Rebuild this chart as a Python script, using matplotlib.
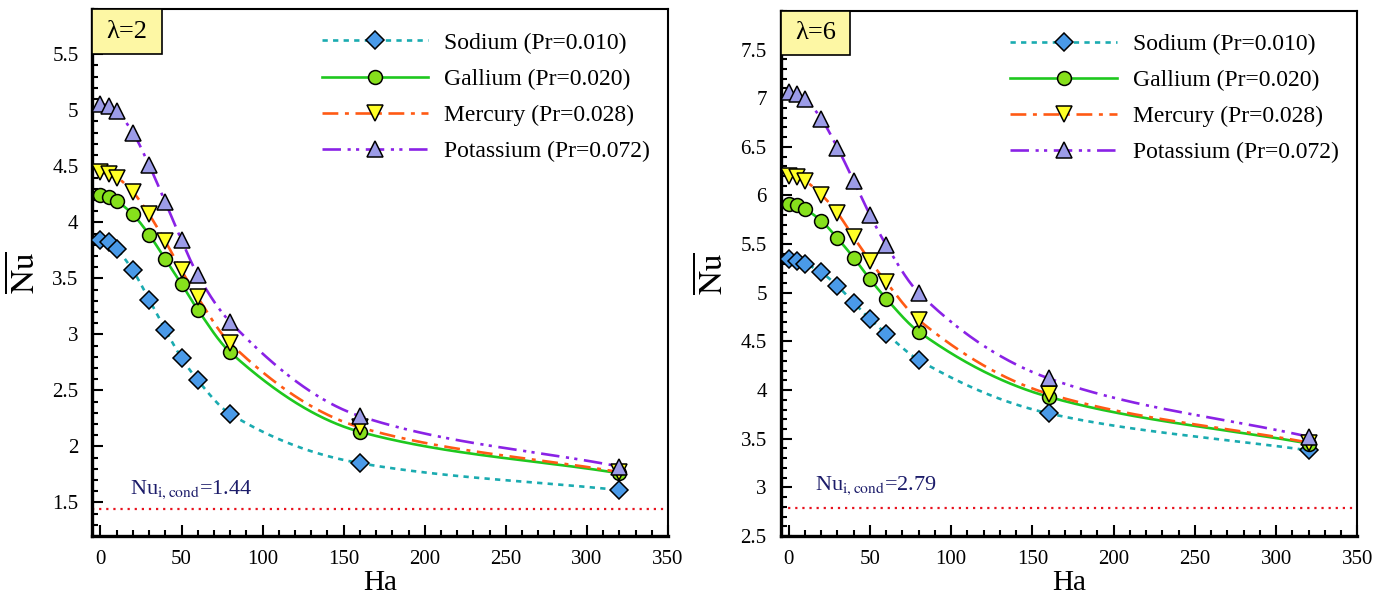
import matplotlib
matplotlib.use('Agg')
import matplotlib.pyplot as plt
import numpy as np
from matplotlib.patches import Rectangle
from matplotlib.ticker import MultipleLocator, FormatStrFormatter

plt.rcParams['font.family'] = ['Liberation Serif', 'DejaVu Serif']
plt.rcParams['mathtext.fontset'] = 'stix'

ha = [0, 5, 10, 20, 30, 40, 50, 60, 80, 160, 320]

# lambda = 2
sodium_2 = [3.84, 3.82, 3.76, 3.57, 3.31, 3.04, 2.79, 2.59, 2.29, 1.85, 1.61]
gallium_2 = [4.24, 4.23, 4.19, 4.07, 3.89, 3.67, 3.45, 3.22, 2.84, 2.13, 1.76]
mercury_2 = [4.45, 4.43, 4.40, 4.27, 4.07, 3.83, 3.57, 3.33, 2.92, 2.17, 1.77]
potassium_2 = [5.06, 5.04, 4.99, 4.80, 4.51, 4.18, 3.84, 3.53, 3.11, 2.27, 1.82]
nu_cond_2 = 1.44

# lambda = 6
sodium_6 = [5.35, 5.33, 5.30, 5.21, 5.07, 4.90, 4.73, 4.58, 4.31, 3.76, 3.38]
gallium_6 = [5.91, 5.90, 5.86, 5.74, 5.56, 5.36, 5.14, 4.94, 4.60, 3.93, 3.45]
mercury_6 = [6.20, 6.19, 6.15, 6.01, 5.82, 5.57, 5.33, 5.11, 4.72, 3.96, 3.46]
potassium_6 = [7.06, 7.04, 6.99, 6.79, 6.49, 6.15, 5.80, 5.49, 5.00, 4.12, 3.52]
nu_cond_6 = 2.79

labels = ['Sodium (Pr=0.010)', 'Gallium (Pr=0.020)',
          'Mercury (Pr=0.028)', 'Potassium (Pr=0.072)']


def smooth(x, y, n=400):
    # monotone cubic (pchip) curve through the points, for drawing only
    x = np.asarray(x, float)
    y = np.asarray(y, float)
    h = np.diff(x)
    d = np.diff(y) / h
    m = np.zeros_like(y)
    m[0] = d[0]
    m[-1] = d[-1]
    for k in range(1, len(x) - 1):
        if d[k - 1] * d[k] > 0:
            w1 = 2 * h[k] + h[k - 1]
            w2 = h[k] + 2 * h[k - 1]
            m[k] = (w1 + w2) / (w1 / d[k - 1] + w2 / d[k])
    xs = np.linspace(x[0], x[-1], n)
    i = np.clip(np.searchsorted(x, xs) - 1, 0, len(x) - 2)
    t = (xs - x[i]) / h[i]
    h00 = 2 * t**3 - 3 * t**2 + 1
    h10 = t**3 - 2 * t**2 + t
    h01 = -2 * t**3 + 3 * t**2
    h11 = t**3 - t**2
    ys = h00 * y[i] + h10 * h[i] * m[i] + h01 * y[i + 1] + h11 * h[i] * m[i + 1]
    return xs, ys


styles = [
    dict(color='#1aabb0', dashes=(2, 2), marker='D', mfc='#4a9ae8', ms=9),
    dict(color='#1ec81e', dashes=(), marker='o', mfc='#86e01c', ms=10),
    dict(color='#ff5a14', dashes=(6, 2.5, 1.5, 2.5), marker='v', mfc='#ffff26', ms=11),
    dict(color='#8a22e6', dashes=(7, 2.5, 1.2, 2, 1.2, 2.5), marker='^', mfc='#9c9ce8', ms=11),
]

fig = plt.figure(figsize=(13.87, 5.99), dpi=100)
ax1 = fig.add_axes([0.0666, 0.1052, 0.415, 0.879])
ax2 = fig.add_axes([0.5628, 0.1052, 0.4159, 0.877])

panels = [
    (ax1, [sodium_2, gallium_2, mercury_2, potassium_2], nu_cond_2, '\u03bb=2', (1.2, 5.9), (18, 1.575)),
    (ax2, [sodium_6, gallium_6, mercury_6, potassium_6], nu_cond_6, '\u03bb=6', (2.5, 7.9), (16, 2.975)),
]

for ax, series, nuc, lam, ylim, tpos in panels:
    handles = []
    for vals, st, lab in zip(series, styles, labels):
        xs, ys = smooth(ha, vals)
        ln, = ax.plot(xs, ys, color=st['color'], lw=1.9, zorder=2)
        if st['dashes']:
            ln.set_dashes(st['dashes'])
        ax.plot(ha, vals, linestyle='none', marker=st['marker'], ms=st['ms'],
                mfc=st['mfc'], mec='black', mew=1.1, zorder=3)
        h, = ax.plot([], [], color=st['color'], lw=1.9, marker=st['marker'],
                     ms=st['ms'], mfc=st['mfc'], mec='black', mew=1.1)
        if st['dashes']:
            h.set_dashes(st['dashes'])
        handles.append(h)

    ax.axhline(nuc, color='#e8121e', lw=1.6, dashes=(1, 2.2), zorder=1)
    ax.text(tpos[0], tpos[1], r'Nu$_{\mathrm{i,cond}}$=%.2f' % nuc,
            color='#1c1c6a', fontsize=16)

    ax.legend(handles, labels, loc='upper left', bbox_to_anchor=(0.382, 0.975),
              frameon=False, fontsize=17, handlelength=4.5, handletextpad=0.7,
              labelspacing=0.62, borderaxespad=0)

    ax.add_patch(Rectangle((0, 0.915), 0.121, 0.085, transform=ax.transAxes,
                           facecolor='#fdf7a4', edgecolor='black', lw=1.2,
                           zorder=5, clip_on=False))
    ax.text(0.0605, 0.9575, lam, transform=ax.transAxes, ha='center',
            va='center', fontsize=19, zorder=6)

    ax.set_xlim(-5, 350)
    ax.set_ylim(*ylim)
    ax.xaxis.set_major_locator(MultipleLocator(50))
    ax.xaxis.set_minor_locator(MultipleLocator(10))
    ax.yaxis.set_major_locator(MultipleLocator(0.5))
    ax.yaxis.set_minor_locator(MultipleLocator(0.1))
    ax.yaxis.set_major_formatter(FormatStrFormatter('%g'))
    ax.tick_params(which='both', direction='in', top=False, right=False,
                   labelsize=15, width=1.5)
    ax.tick_params(which='major', length=8, pad=10)
    ax.tick_params(which='minor', length=4)
    ax.spines['left'].set_linewidth(2.4)
    ax.spines['bottom'].set_linewidth(2.4)
    ax.spines['top'].set_linewidth(1.5)
    ax.spines['right'].set_linewidth(1.5)

    ax.set_xlabel('Ha', fontsize=21, labelpad=1)
    ax.set_ylabel(r'$\overline{\mathrm{Nu}}$', fontsize=24, labelpad=8)

plt.savefig('out.png', dpi=100)
plt.close()
